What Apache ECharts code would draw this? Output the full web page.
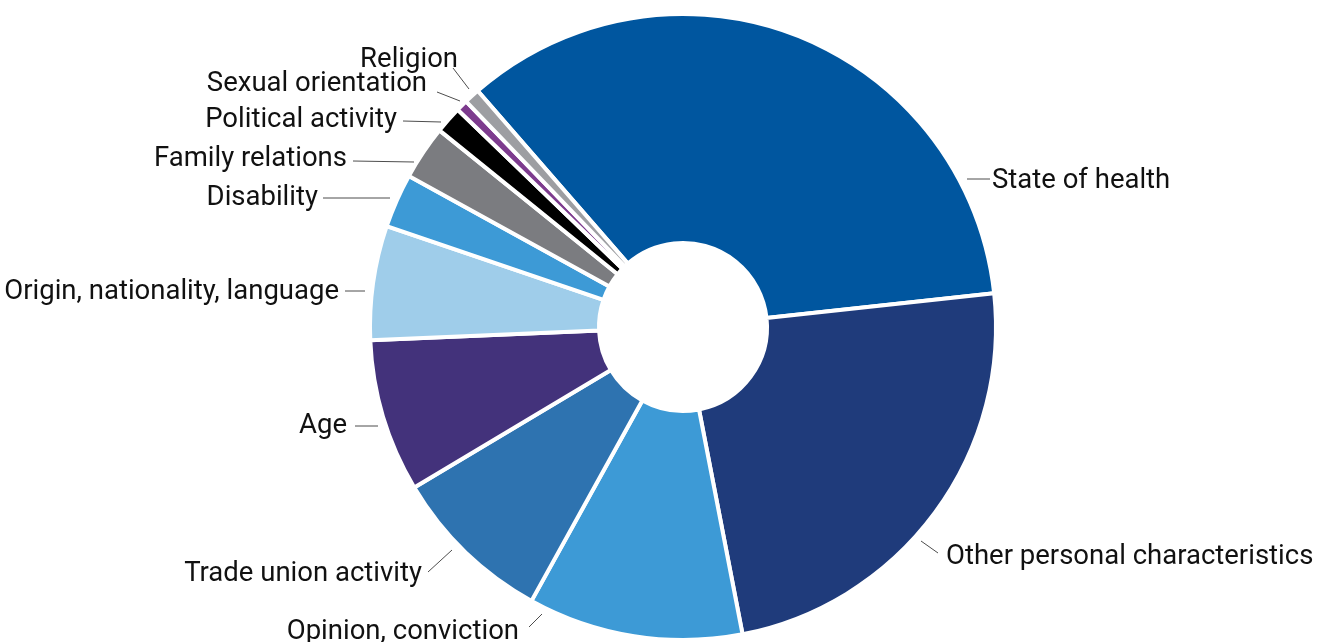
<!DOCTYPE html>
<html lang="en">
<head>
  <meta charset="UTF-8">
  <title>Pie</title>
  <style>
    * { margin: 0; padding: 0; }
    body { background: #ffffff; }
    #chart { width: 1328px; height: 642px; }
  </style>
</head>
<body>
  <div id="chart"></div>
  <script src="https://cdn.jsdelivr.net/npm/echarts@6/dist/echarts.min.js"></script>
  <script>
    // categories, clockwise from the top-left edge of "State of health"
    var categories = [
      'State of health',
      'Other personal characteristics',
      'Opinion, conviction',
      'Trade union activity',
      'Age',
      'Origin, nationality, language',
      'Disability',
      'Family relations',
      'Political activity',
      'Sexual orientation',
      'Religion'
    ];
    // share of each category (%)
    var shares = [34.7, 23.7, 11.1, 8.4, 7.9, 5.9, 2.8, 2.8, 1.4, 0.6, 0.8];
    var sliceColors = [
      '#00569f', '#1f3b7b', '#3d9ad6', '#2e73b0', '#43327b', '#9fcdea',
      '#3d9ad6', '#7b7c80', '#000000', '#7d3b8e', '#9d9ea2'
    ];

    // where each label sits: text anchor x, y, align, then leader line from pie to text
    var labelSpots = [
      [992, 181, 'left', [967, 179], [990, 179]],
      [946, 557, 'left', [921, 541], [938, 553]],
      [519, 632, 'right', [542, 614], [529, 627]],
      [422, 574, 'right', [452, 550], [428, 572]],
      [347, 426, 'right', [378, 426], [355, 426]],
      [339, 292, 'right', [365, 291], [345, 291]],
      [318, 198, 'right', [390, 198], [323, 198]],
      [347, 159, 'right', [414, 162], [353, 161]],
      [397, 120, 'right', [441, 122], [403, 121]],
      [427, 84, 'right', [460, 101], [437, 92]],
      [458, 60, 'right', [469, 89], [453, 68]]
    ];

    var pieData = categories.map(function (name, i) {
      return { name: name, value: shares[i], itemStyle: { color: sliceColors[i] } };
    });

    var myChart = echarts.init(document.getElementById('chart'));
    var option = {
      animation: false,
      series: [
        {
          type: 'pie',
          center: [683, 327],
          radius: [84, 313],
          startAngle: 131,
          clockwise: true,
          avoidLabelOverlap: false,
          itemStyle: {
            borderColor: '#ffffff',
            borderWidth: 4
          },
          label: {
            show: true,
            position: 'outside',
            color: '#111111',
            fontFamily: 'Roboto',
            fontSize: 27.5,
            fontWeight: 'normal'
          },
          labelLine: {
            show: true,
            length: 10,
            length2: 10,
            lineStyle: { color: '#4d4d4d', width: 1 }
          },
          labelLayout: function (params) {
            var s = labelSpots[params.dataIndex];
            return {
              x: s[0],
              y: s[1],
              align: s[2],
              verticalAlign: 'middle',
              labelLinePoints: [s[3], s[3], s[4]]
            };
          },
          emphasis: { disabled: true },
          data: pieData
        }
      ]
    };
    myChart.setOption(option);
  </script>
</body>
</html>
